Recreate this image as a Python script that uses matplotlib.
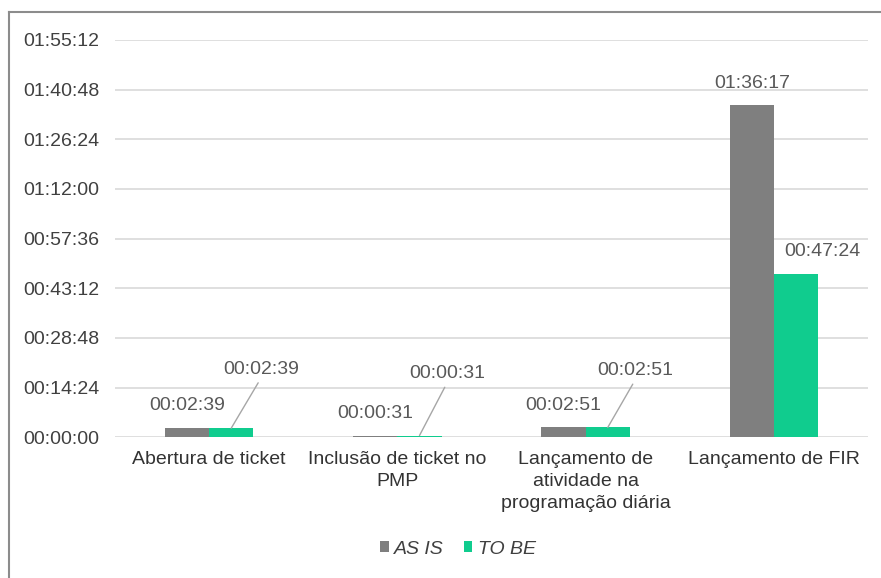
import numpy as np
import matplotlib
matplotlib.use("Agg")
import matplotlib.pyplot as plt
from matplotlib.patches import Patch
from matplotlib.lines import Line2D

plt.rcParams["font.family"] = ["Liberation Sans", "DejaVu Sans"]

# tempos em segundos
etapas = ["Abertura de ticket", "Inclusão de ticket no\nPMP",
          "Lançamento de\natividade na\nprogramação diária", "Lançamento de FIR"]
as_is = [159, 31, 171, 5777]
to_be = [159, 31, 171, 2844]
series_names = ["AS IS", "TO BE"]
y_ticks = np.arange(0, 6913, 864)

GRAY = "#7f7f7f"
GREEN = "#10cc8e"
TXT = "#404040"
LBL = "#595959"

# deslocamento dos rótulos em pixels (dx, dy) a partir do topo da barra
off_as_is = [(0, 23), (0, 22), (0, 22), (0, 22)]
off_to_be = [(30, 59), (28, 62), (28, 57), (26, 22)]
leader = [True, True, True, False]


def hms(s, _=None):
    s = int(round(s))
    return f"{s // 3600:02d}:{(s % 3600) // 60:02d}:{s % 60:02d}"


fig = plt.figure(figsize=(8.81, 5.78), dpi=100)
W, H = 881, 578
ax = fig.add_axes([115 / W, (H - 437.3) / H, 753 / W, (437.3 - 40) / H])

x = np.arange(len(etapas))
w = 0.235
b1 = ax.bar(x - w / 2, as_is, w, color=GRAY, zorder=3)
b2 = ax.bar(x + w / 2, to_be, w, color=GREEN, zorder=3)

ax.set_xlim(-0.5, len(etapas) - 0.5)
ax.set_ylim(0, 6912)
ax.set_yticks(y_ticks)
ax.yaxis.set_major_formatter(plt.FuncFormatter(hms))
ax.set_xticks(x)
ax.set_xticklabels(etapas, fontsize=14, color="#333333", linespacing=1.38)
ax.tick_params(axis="y", length=0, pad=11, labelsize=14, labelcolor=TXT)
ax.tick_params(axis="x", length=0, pad=10)
ax.grid(axis="y", color="#d9d9d9", linewidth=1.2, zorder=0)
for sp in ax.spines.values():
    sp.set_visible(False)

for i in range(len(etapas)):
    ax.annotate(hms(as_is[i]), (x[i] - w / 2, as_is[i]), xytext=off_as_is[i],
                textcoords="offset pixels", ha="center", va="center",
                fontsize=14, color=LBL, zorder=4)
    props = None
    if leader[i]:
        props = dict(arrowstyle="-", color="#a6a6a6", lw=1, relpos=(0.5, 0.0),
                     shrinkA=2, shrinkB=0)
    ax.annotate(hms(to_be[i]), (x[i] + w / 2, to_be[i]), xytext=off_to_be[i],
                textcoords="offset pixels", ha="center", va="center",
                fontsize=14, color=LBL, arrowprops=props, zorder=4)

handles = [Patch(facecolor=GRAY), Patch(facecolor=GREEN)]
leg = fig.legend(handles, series_names, loc="center", ncol=2,
                 bbox_to_anchor=(458 / W, 1 - 549 / H), frameon=False,
                 handlelength=0.45, handleheight=0.45, handletextpad=0.3,
                 columnspacing=1.0, prop={"size": 14, "style": "italic"})
for t in leg.get_texts():
    t.set_color(TXT)

# moldura do gráfico
fig.add_artist(Line2D([9 / W, 9 / W], [0, 1 - 12 / H], color="#8c8c8c", lw=1.5,
                      transform=fig.transFigure))
fig.add_artist(Line2D([9 / W, 1], [1 - 12 / H, 1 - 12 / H], color="#8c8c8c", lw=1.5,
                      transform=fig.transFigure))

fig.savefig("out.png", dpi=100)
